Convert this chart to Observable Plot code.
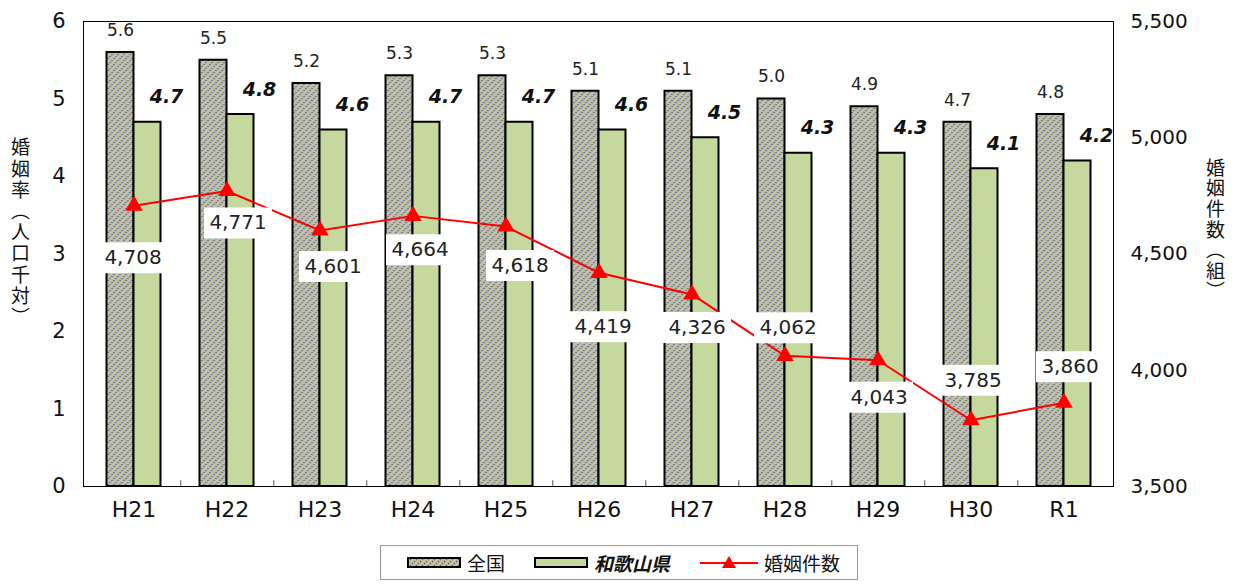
<!DOCTYPE html>
<html>
<head>
<meta charset="utf-8">
<script src="https://cdn.jsdelivr.net/npm/d3@7"></script>
<script src="https://cdn.jsdelivr.net/npm/@observablehq/plot@0.6"></script>
<style>
  html, body { margin: 0; padding: 0; background: #fff; font-family: "Noto Sans CJK JP", sans-serif; }
  #wrap { width: 1240px; }
  #wrap > svg { display: block; }
  .legendbox {
    margin-left: 380px; margin-top: 5px; width: 478px; height: 35px;
    border: 1px solid #999; box-sizing: border-box; position: relative;
    font-size: 19px; color: #111; background: #fff;
  }
  .item { display: flex; align-items: center; position: absolute; top: 0; height: 33px; white-space: nowrap; }
  .item svg { display: block; }
</style>
</head>
<body>
<div id="wrap"></div>
<script>
const categories = ["H21", "H22", "H23", "H24", "H25", "H26", "H27", "H28", "H29", "H30", "R1"];
const national = [5.6, 5.5, 5.2, 5.3, 5.3, 5.1, 5.1, 5.0, 4.9, 4.7, 4.8];
const wakayama = [4.7, 4.8, 4.6, 4.7, 4.7, 4.6, 4.5, 4.3, 4.3, 4.1, 4.2];
const marriages = [4708, 4771, 4601, 4664, 4618, 4419, 4326, 4062, 4043, 3785, 3860];
const leftTicks = [0, 1, 2, 3, 4, 5, 6];
const rightTicks = [3500, 4000, 4500, 5000, 5500];
const seriesNames = ["全国", "和歌山県", "婚姻件数"];
const leftTitle = "婚姻率（人口千対）";
const rightTitle = "婚姻件数（組）";

// placement of the count labels (pixel offsets from each point)
const countLabelDx = [-1, 11, 13, 7, 14, 4, 5, 3, 1, 2, 6];
const countLabelDy = [52, 32, 36, 34, 39, 54, 33, -28, 37, -40, -36];

// right axis (count) mapped onto the left (rate) scale
const toRate = c => (c - 3500) / 2000 * 6;
const fromRate = r => r / 6 * 2000 + 3500;

const rows = categories.map((cat, i) => ({cat, national: national[i], wakayama: wakayama[i], count: marriages[i]}));

const boxSymbol = {draw(ctx) { ctx.rect(-34, -15.5, 68, 31); }};
const numFont = "'DejaVu Sans', sans-serif";
const jpFont = "'Noto Sans CJK JP', sans-serif";

const half = 13.5;
const marks = [
  Plot.barY(rows, {x: "cat", y: "national", fill: "url(#hatch)", stroke: "black", strokeWidth: 2, dx: -half}),
  Plot.barY(rows, {x: "cat", y: "wakayama", fill: "#c5d89d", stroke: "black", strokeWidth: 2, dx: half}),
  Plot.frame({stroke: "black", strokeWidth: 1}),
  Plot.ruleX(categories.slice(0, -1), {x: d => d, y1: 0, y2: 0.075, dx: 46.8, stroke: "#555"}),
  Plot.text(rows, {x: "cat", y: "national", text: d => d.national.toFixed(1), dx: -half, dy: -22, fontSize: 17, fill: "#222", fontFamily: numFont}),
  Plot.text(rows, {x: "cat", y: "wakayama", text: d => d.wakayama.toFixed(1), dx: half + 19, dy: -25, fontSize: 19, fontWeight: "bold", fontStyle: "italic", fill: "#111", fontFamily: numFont}),
  Plot.line(rows, {x: "cat", y: d => toRate(d.count), stroke: "#ff0000", strokeWidth: 2}),
  Plot.dot(rows, {x: "cat", y: d => toRate(d.count), symbol: "triangle", r: 6.5, fill: "#ff0000", stroke: "none"}),
  ...rows.flatMap((d, i) => [
    Plot.dot([d], {x: "cat", y: r => toRate(r.count), symbol: boxSymbol, fill: "white", stroke: "none", dx: countLabelDx[i], dy: countLabelDy[i]}),
    Plot.text([d], {x: "cat", y: r => toRate(r.count), text: r => d3.format(",")(r.count), fontSize: 20, fill: "#222", fontFamily: numFont, dx: countLabelDx[i], dy: countLabelDy[i]})
  ]),
  Plot.axisY(leftTicks, {anchor: "left", tickSize: 0, tickPadding: 18, fontSize: 21, label: null, fill: "#111", fontFamily: numFont, tickFormat: d => String(d)}),
  Plot.axisY(rightTicks.map(toRate), {anchor: "right", tickSize: 0, tickPadding: 17, fontSize: 20, label: null, fill: "#111", fontFamily: numFont, tickFormat: v => d3.format(",")(Math.round(fromRate(v)))}),
  Plot.axisX({anchor: "bottom", tickSize: 0, tickPadding: 15, fontSize: 22, label: null, fill: "#111", fontFamily: numFont}),
  Plot.text([leftTitle], {frameAnchor: "left", text: d => d, dx: -63, dy: -27, fontSize: 19, fill: "#111", fontFamily: jpFont, className: "vtitle vleft"}),
  Plot.text([rightTitle], {frameAnchor: "right", text: d => d, dx: 102, dy: -30, fontSize: 19, fill: "#111", fontFamily: jpFont, className: "vtitle vright"})
];

const chart = Plot.plot({
  width: 1240,
  height: 540,
  marginLeft: 83,
  marginRight: 127,
  marginTop: 21,
  marginBottom: 54,
  style: {fontFamily: jpFont, background: "white", overflow: "visible"},
  x: {domain: categories, paddingInner: 0.712, paddingOuter: 0.356, axis: null},
  y: {domain: [0, 6], axis: null},
  marks
});

// vertical (tategaki) axis titles
d3.select(chart).selectAll(".vtitle text")
  .attr("dy", null)
  .attr("text-anchor", "middle")
  .style("writing-mode", "vertical-rl")
  .style("text-orientation", "mixed");
d3.select(chart).selectAll(".vleft text").style("letter-spacing", "2.2px");
d3.select(chart).selectAll(".vright text").style("letter-spacing", "1.6px");

const ns = "http://www.w3.org/2000/svg";
const defs = document.createElementNS(ns, "defs");
defs.innerHTML = `<pattern id="hatch" patternUnits="userSpaceOnUse" width="6" height="6">
  <rect width="6" height="6" fill="#cbc19a"/>
  <path d="M-1,7 L7,-1 M-1,1 L1,-1 M5,7 L7,5" stroke="#2c55a8" stroke-width="1.2" stroke-dasharray="1.4,1.4"/>
</pattern>`;
chart.insertBefore(defs, chart.firstChild);

const wrap = document.getElementById("wrap");
wrap.appendChild(chart);

const legend = document.createElement("div");
legend.className = "legendbox";
legend.innerHTML = `
  <div class="item" style="left:26px">
    <svg width="54" height="11"><rect x="1" y="1" width="52" height="9" fill="url(#hatch)" stroke="black" stroke-width="2"/></svg>
    <span style="margin-left:6px">${seriesNames[0]}</span>
  </div>
  <div class="item" style="left:153px">
    <svg width="54" height="11"><rect x="1" y="1" width="52" height="9" fill="#c5d89d" stroke="black" stroke-width="2"/></svg>
    <span style="margin-left:6px;font-weight:bold;font-style:italic">${seriesNames[1]}</span>
  </div>
  <div class="item" style="left:319px">
    <svg width="58" height="16"><line x1="0" y1="8" x2="58" y2="8" stroke="#ff0000" stroke-width="2"/><path d="M29,1 L36,13 L22,13 Z" fill="#ff0000"/></svg>
    <span style="margin-left:6px">${seriesNames[2]}</span>
  </div>`;
wrap.appendChild(legend);
</script>
</body>
</html>
